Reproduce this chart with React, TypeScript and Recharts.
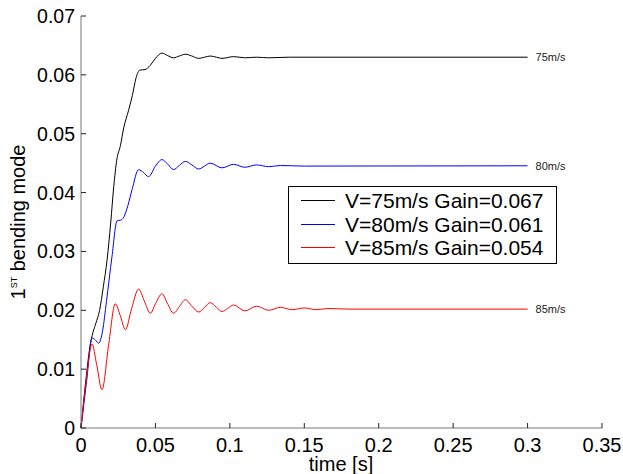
import { LineChart, Line, XAxis, YAxis, Legend, Label } from "recharts";

// [time s, 1st bending mode]
const V75: [number, number][] = [
  [0, 0], [0.003, 0.0075], [0.006, 0.0138], [0.008, 0.0162], [0.01, 0.0178],
  [0.0125, 0.02], [0.015, 0.024], [0.0175, 0.0285], [0.02, 0.035], [0.022, 0.041],
  [0.024, 0.0455], [0.0265, 0.048], [0.0287, 0.051], [0.032, 0.054], [0.0345, 0.0565],
  [0.037, 0.0595], [0.0395, 0.0608], [0.043, 0.0609], [0.0465, 0.0616], [0.05, 0.0628],
  [0.0544, 0.0637], [0.058, 0.0633], [0.0622, 0.0629], [0.066, 0.0632], [0.0701, 0.0635],
  [0.0745, 0.0632], [0.079, 0.0628], [0.083, 0.063], [0.0868, 0.0632], [0.091, 0.063],
  [0.0947, 0.0628], [0.1025, 0.0631], [0.11, 0.0629], [0.118, 0.063], [0.126, 0.0629],
  [0.14, 0.063], [0.3, 0.063],
];

const V80: [number, number][] = [
  [0, 0], [0.0037, 0.0078], [0.0074, 0.0153], [0.0095, 0.015], [0.0118, 0.0144],
  [0.0145, 0.0165], [0.0171, 0.0215], [0.0208, 0.0291], [0.0242, 0.0352], [0.0265, 0.0353],
  [0.0287, 0.0358], [0.0315, 0.0378], [0.0343, 0.0405], [0.0387, 0.0439], [0.042, 0.0434],
  [0.0454, 0.0427], [0.05, 0.0445], [0.0544, 0.0456], [0.058, 0.0449], [0.0622, 0.0439],
  [0.066, 0.0446], [0.0701, 0.0453], [0.0745, 0.0447], [0.079, 0.044], [0.083, 0.0445],
  [0.0868, 0.045], [0.0947, 0.0442], [0.1025, 0.0448], [0.11, 0.0443], [0.118, 0.0447],
  [0.126, 0.0444], [0.134, 0.0446], [0.15, 0.0445], [0.3, 0.04455],
];

const V85: [number, number][] = [
  [0, 0], [0.0037, 0.0085], [0.0074, 0.0143], [0.0105, 0.0108], [0.0141, 0.0065],
  [0.0185, 0.014], [0.023, 0.0211], [0.0265, 0.019], [0.0298, 0.0167], [0.034, 0.0203],
  [0.0387, 0.0236], [0.0425, 0.0216], [0.0466, 0.0195], [0.05, 0.0211], [0.0544, 0.0228],
  [0.058, 0.0212], [0.0622, 0.0195], [0.066, 0.0206], [0.0701, 0.0218], [0.0745, 0.0207],
  [0.079, 0.0197], [0.083, 0.0205], [0.0868, 0.0213], [0.091, 0.0205], [0.0947, 0.0198],
  [0.0985, 0.0203], [0.1025, 0.0209], [0.11, 0.0199], [0.118, 0.0207], [0.126, 0.02],
  [0.134, 0.0205], [0.142, 0.0201], [0.15, 0.0204], [0.158, 0.0201], [0.166, 0.0203],
  [0.18, 0.0202], [0.3, 0.0202],
];

const X_TICKS = [0, 0.05, 0.1, 0.15, 0.2, 0.25, 0.3, 0.35];
const X_LABELS = ["0", "0.05", "0.1", "0.15", "0.2", "0.25", "0.3", "0.35"];
const Y_TICKS = [0, 0.01, 0.02, 0.03, 0.04, 0.05, 0.06, 0.07];
const Y_LABELS = ["0", "0.01", "0.02", "0.03", "0.04", "0.05", "0.06", "0.07"];

const SERIES = [
  { key: "v75", points: V75, color: "#000000", end: "75m/s", legend: "V=75m/s Gain=0.067" },
  { key: "v80", points: V80, color: "#0000ff", end: "80m/s", legend: "V=80m/s Gain=0.061" },
  { key: "v85", points: V85, color: "#ff0000", end: "85m/s", legend: "V=85m/s Gain=0.054" },
];

const FONT = "'Liberation Sans', Arial, Helvetica, sans-serif";
const PLOT_LEFT = 81;
const PLOT_BOTTOM = 428;

function XTick(props: any) {
  const { x, payload, index } = props;
  return (
    <g>
      <line x1={x} x2={x} y1={PLOT_BOTTOM} y2={PLOT_BOTTOM - 5} stroke="#222" />
      <text x={x} y={PLOT_BOTTOM + 24} textAnchor="middle" fontSize={20} fontFamily={FONT} fill="#000">
        {X_LABELS[index] ?? String(payload.value)}
      </text>
    </g>
  );
}

function YTick(props: any) {
  const { y, payload, index } = props;
  return (
    <g>
      <line x1={PLOT_LEFT} x2={PLOT_LEFT + 5} y1={y} y2={y} stroke="#222" />
      <text x={75} y={y + 7} textAnchor="end" fontSize={19.5} fontFamily={FONT} fill="#000">
        {Y_LABELS[index] ?? String(payload.value)}
      </text>
    </g>
  );
}

function YTitle() {
  return (
    <text x={25} y={222} transform="rotate(-90 25 222)" textAnchor="middle" fontSize={20} fontFamily={FONT} fill="#000">
      <tspan>1</tspan>
      <tspan fontSize={9} dy={-8}>ST</tspan>
      <tspan dy={8}> bending mode</tspan>
    </text>
  );
}

function XTitle() {
  return (
    <text x={341} y={471} textAnchor="middle" fontSize={20} fontFamily={FONT} fill="#000">
      time [s]
    </text>
  );
}

function LegendBox() {
  return (
    <div
      style={{
        border: "1px solid #000",
        background: "#fff",
        width: 267,
        height: 74,
        boxSizing: "content-box",
        fontFamily: FONT,
        fontSize: 21,
        padding: "2px 0 0 0",
      }}
    >
      {SERIES.map((s) => (
        <div key={s.key} style={{ display: "flex", alignItems: "center", height: 23.5, lineHeight: "23px" }}>
          <span style={{ display: "inline-block", marginLeft: 12, width: 34, height: 1, background: s.color }} />
          <span style={{ marginLeft: 10, whiteSpace: "nowrap" }}>{s.legend}</span>
        </div>
      ))}
    </div>
  );
}

function endLabel(text: string, last: number) {
  return (props: any) => {
    const { x, y, index } = props;
    if (index !== last) return null;
    return (
      <text x={x + 8} y={y + 4} fontSize={11} fontFamily={FONT} fill="#222">
        {text}
      </text>
    );
  };
}

export default function App() {
  return (
    <div style={{ position: "absolute", left: 0, top: 0, background: "#fff" }}>
      <LineChart width={623} height={474} margin={{ top: 16, right: 21, bottom: 0, left: 0 }}>
        <XAxis
          type="number"
          dataKey="t"
          domain={[0, 0.35]}
          ticks={X_TICKS}
          height={46}
          axisLine={{ stroke: "#777" }}
          tickLine={false}
          tick={XTick}
          allowDuplicatedCategory={false}
        >
          <Label content={XTitle} />
        </XAxis>
        <YAxis
          type="number"
          domain={[0, 0.07]}
          ticks={Y_TICKS}
          width={81}
          axisLine={{ stroke: "#777" }}
          tickLine={false}
          tick={YTick}
        >
          <Label content={YTitle} />
        </YAxis>
        {SERIES.map((s) => (
          <Line
            key={s.key}
            data={s.points.map(([t, v]) => ({ t, v }))}
            dataKey="v"
            type="monotone"
            stroke={s.color}
            strokeWidth={1}
            dot={false}
            isAnimationActive={false}
            label={endLabel(s.end, s.points.length - 1)}
          />
        ))}
        <Legend
          layout="vertical"
          align="center"
          verticalAlign="middle"
          content={LegendBox}
          wrapperStyle={{ left: 288, top: 186, width: 270, height: 78 }}
        />
      </LineChart>
    </div>
  );
}
